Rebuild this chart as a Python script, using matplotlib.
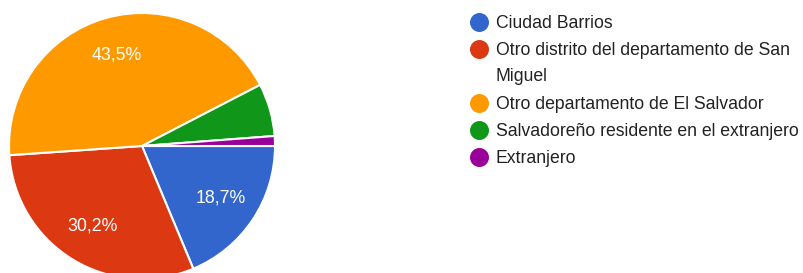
import matplotlib.pyplot as plt

# Datos
labels = ['Ciudad Barrios',
          'Otro distrito del departamento de San\nMiguel',
          'Otro departamento de El Salvador',
          'Salvadoreño residente en el extranjero',
          'Extranjero']
values = [18.7, 30.2, 43.5, 6.4, 1.2]
colors = ['#3366cc', '#dc3912', '#ff9900', '#109618', '#990099']

plt.rcParams['font.family'] = ['Liberation Sans', 'DejaVu Sans']

W, H = 804, 273
fig = plt.figure(figsize=(W / 100, H / 100), dpi=100)
ax = fig.add_axes([0, 0, 1, 1])

def fmt(pct):
    return f'{pct:.1f}%'.replace('.', ',') if pct > 10 else ''

wedges, texts, autotexts = ax.pie(values, colors=colors, startangle=0, counterclock=False,
                                  center=(142, H - 146), radius=133, autopct=fmt,
                                  pctdistance=0.71, frame=True,
                                  wedgeprops=dict(edgecolor='white', linewidth=1.5))
for t in autotexts:
    t.set_color('white')
    t.set_fontsize(12.8)
ax.set_xlim(0, W)
ax.set_ylim(0, H)
ax.set_aspect('equal')
ax.axis('off')

# leyenda manual
y = H - 22
for lab, col in zip(labels, colors):
    ax.scatter([479], [y], s=160, color=col, zorder=3, clip_on=False)
    for i, line in enumerate(lab.split('\n')):
        ax.text(496, y - 6.3 - 26 * i, line, fontsize=12.7, color='#222222',
                va='baseline', ha='left')
    y -= 27 + 27 * lab.count('\n')

fig.savefig('out.png', dpi=100)
